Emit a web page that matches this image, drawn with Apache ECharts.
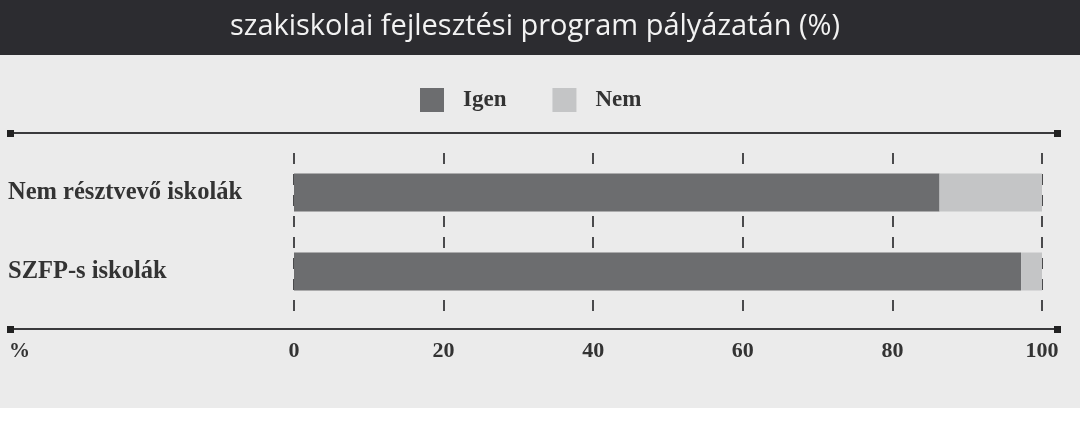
<!DOCTYPE html>
<html><head><meta charset="utf-8">
<script src="https://cdn.jsdelivr.net/npm/echarts@6/dist/echarts.min.js"></script>
<style>html,body{margin:0;padding:0;background:#fff}#c{width:1080px;height:422px}</style>
</head><body><div id="c"></div>
<script>
const categories = ['Nem résztvevő iskolák', 'SZFP-s iskolák'];
const igen = [86.3, 97.2];
const nem = [13.7, 2.8];
const seriesNames = ['Igen', 'Nem'];
const titleText = 'szakiskolai fejlesztési program pályázatán (%)';
const unitLabel = '%';

const chart = echarts.init(document.getElementById('c'));
const F = 'Liberation Serif';
const lineColor = '#3a3a3c';
function hline(y) {
  return [
    {type:'line', shape:{x1:10,y1:y,x2:1058,y2:y}, style:{stroke:lineColor,lineWidth:2}, z:5},
    {type:'rect', shape:{x:7,y:y-3,width:7,height:7}, style:{fill:'#222'}, z:6},
    {type:'rect', shape:{x:1054,y:y-3,width:7,height:7}, style:{fill:'#222'}, z:6}
  ];
}
chart.setOption({
  animation:false,
  backgroundColor:'#ffffff',
  graphic:[
    {type:'rect', shape:{x:0,y:0,width:1080,height:55}, style:{fill:'#2c2c30'}, z:-10},
    {type:'rect', shape:{x:0,y:55,width:1080,height:353}, style:{fill:'#ebebeb'}, z:-10},
    {type:'text', x:535, y:27, style:{text:titleText, fill:'#f2f2f2', font:'29px "Open Sans"', align:'center', verticalAlign:'middle'}, z:5},
    ...hline(133), ...hline(329),
    {type:'text', x:9, y:352, style:{text:unitLabel, fill:'#333', font:'bold 21px "'+F+'"', align:'left', verticalAlign:'middle'}, z:5}
  ],
  legend:{
    data:seriesNames, left:415, top:83, itemWidth:24, itemHeight:24, itemGap:46, icon:'rect',
    textStyle:{fontFamily:F, fontWeight:'bold', fontSize:23, color:'#333', padding:[0,0,0,14]}
  },
  grid:{left:294, right:38, top:153, bottom:111, containLabel:false},
  xAxis:{
    type:'value', min:0, max:100, interval:20,
    axisLine:{show:false}, axisTick:{show:false},
    axisLabel:{fontFamily:F, fontWeight:'bold', fontSize:22, color:'#333', margin:29},
    splitLine:{show:true, lineStyle:{color:'#4a4a4c', width:2, type:[11,10]}}
  },
  yAxis:{
    type:'category', data:categories, inverse:true,
    axisLine:{show:false}, axisTick:{show:false},
    axisLabel:{align:'left', margin:286, fontFamily:F, fontWeight:'bold', fontSize:24.5, color:'#333'}
  },
  series:[
    {name:'Igen', type:'bar', stack:'a', data:igen, barWidth:38, itemStyle:{color:'#6c6d6f'}, z:3},
    {name:'Nem', type:'bar', stack:'a', data:nem, barWidth:38, itemStyle:{color:'#c4c5c6'}, z:3}
  ]
});
</script></body></html>
